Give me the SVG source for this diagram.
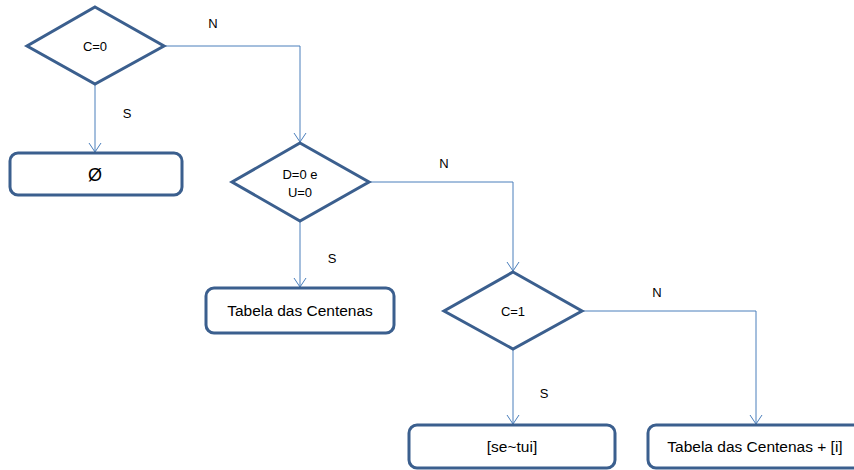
<svg xmlns="http://www.w3.org/2000/svg" width="854" height="470" viewBox="0 0 854 470">
  <style>
    .shape { fill: #ffffff; stroke: #3b5f8e; stroke-width: 3; stroke-linejoin: miter; }
    .box { fill: #ffffff; stroke: #3b5f8e; stroke-width: 3; }
    .link { fill: none; stroke: #4a7ebb; stroke-width: 1; }
    .arrow { marker-end: url(#arrow); }
    .t { font-family: "Liberation Sans", Arial, sans-serif; fill: #000000; text-anchor: middle; }
    .small { font-size: 13px; }
    .big { font-size: 15.5px; }
  </style>
  <defs>
    <!-- open V arrowhead, tip at the path end -->
    <marker id="arrow" markerUnits="userSpaceOnUse" viewBox="-10 -7 11 14" markerWidth="11" markerHeight="14" refX="0" refY="0" orient="auto">
      <path d="M-9,-6 L0,0 L-9,6" fill="none" stroke="#4a7ebb" stroke-width="1"/>
    </marker>
  </defs>

  <rect width="854" height="470" fill="#ffffff"/>

  <!-- connectors -->
  <g id="connectors">
    <path class="link arrow" d="M95,84 V152"/>
    <path class="link arrow" d="M164,46 H300 V142"/>
    <path class="link arrow" d="M300,221 V287"/>
    <path class="link arrow" d="M369,182 H513 V271"/>
    <path class="link arrow" d="M513,349 V424"/>
    <path class="link arrow" d="M582,311 H756 V424"/>
    <text class="t small" x="213" y="28">N</text>
    <text class="t small" x="127" y="118">S</text>
    <text class="t small" x="444" y="168">N</text>
    <text class="t small" x="332" y="263">S</text>
    <text class="t small" x="657" y="297">N</text>
    <text class="t small" x="544" y="398">S</text>
  </g>

  <!-- decision: C=0 -->
  <g id="dec-c0">
    <polygon class="shape" points="95,7 164,46 95,84 27,46"/>
    <text class="t small" x="95" y="51">C=0</text>
  </g>

  <!-- result: empty set -->
  <g id="res-empty">
    <rect class="box" x="10" y="153" width="172" height="42" rx="8"/>
    <text class="t" x="95" y="181" font-size="18">Ø</text>
  </g>

  <!-- decision: D=0 e U=0 -->
  <g id="dec-du">
    <polygon class="shape" points="300,143 369,182 300,221 232,182"/>
    <text class="t small" x="300" y="179">D=0 e</text>
    <text class="t small" x="300" y="197">U=0</text>
  </g>

  <!-- result: table of hundreds -->
  <g id="res-table">
    <rect class="box" x="206" y="288" width="188" height="45" rx="8"/>
    <text class="t big" x="300" y="316">Tabela das Centenas</text>
  </g>

  <!-- decision: C=1 -->
  <g id="dec-c1">
    <polygon class="shape" points="513,272 582,311 513,349 444,311"/>
    <text class="t small" x="513" y="316">C=1</text>
  </g>

  <!-- result: [se~tui] -->
  <g id="res-setui">
    <rect class="box" x="409" y="425" width="206" height="43" rx="8"/>
    <text class="t big" x="512" y="452">[se~tui]</text>
  </g>

  <!-- result: table of hundreds + [i] -->
  <g id="res-table-i">
    <rect class="box" x="648" y="425" width="214" height="43" rx="8"/>
    <text class="t big" x="755" y="452">Tabela das Centenas + [i]</text>
  </g>
</svg>
